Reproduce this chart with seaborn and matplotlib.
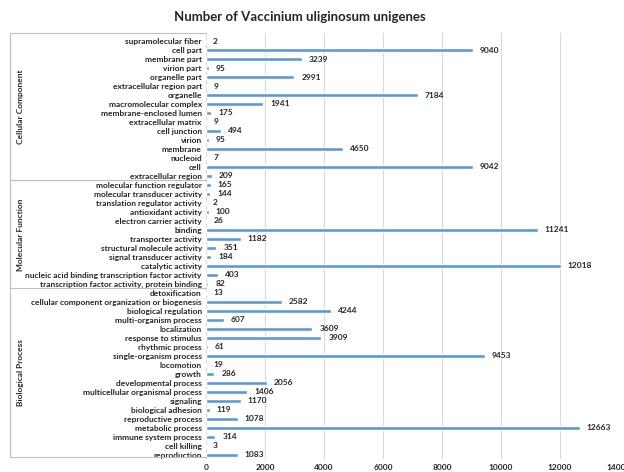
import matplotlib
matplotlib.use('Agg')
import matplotlib.pyplot as plt
import matplotlib.transforms as mtransforms
import pandas as pd
import seaborn as sns

# GO terms, top to bottom as in the chart
cc_terms = ['supramolecular fiber', 'cell part', 'membrane part', 'virion part',
            'organelle part', 'extracellular region part', 'organelle',
            'macromolecular complex', 'membrane-enclosed lumen', 'extracellular matrix',
            'cell junction', 'virion', 'membrane', 'nucleoid', 'cell', 'extracellular region']
cc_counts = [2, 9040, 3239, 95, 2991, 9, 7184, 1941, 175, 9, 494, 95, 4650, 7, 9042, 209]

mf_terms = ['molecular function regulator', 'molecular transducer activity',
            'translation regulator activity', 'antioxidant activity',
            'electron carrier activity', 'binding', 'transporter activity',
            'structural molecule activity', 'signal transducer activity',
            'catalytic activity', 'nucleic acid binding transcription factor activity',
            'transcription factor activity, protein binding']
mf_counts = [165, 144, 2, 100, 26, 11241, 1182, 351, 184, 12018, 403, 82]

bp_terms = ['detoxification', 'cellular component organization or biogenesis',
            'biological regulation', 'multi-organism process', 'localization',
            'response to stimulus', 'rhythmic process', 'single-organism process',
            'locomotion', 'growth', 'developmental process',
            'multicellular organismal process', 'signaling', 'biological adhesion',
            'reproductive process', 'metabolic process', 'immune system process',
            'cell killing', 'reproduction']
bp_counts = [13, 2582, 4244, 607, 3609, 3909, 61, 9453, 19, 286, 2056, 1406, 1170,
             119, 1078, 12663, 314, 3, 1083]

groups = ['Cellular Component', 'Molecular Function', 'Biological Process']
x_ticks = [0, 2000, 4000, 6000, 8000, 10000, 12000, 14000]

df = pd.DataFrame({
    'term': cc_terms + mf_terms + bp_terms,
    'count': cc_counts + mf_counts + bp_counts,
    'group': [groups[0]] * len(cc_terms) + [groups[1]] * len(mf_terms) + [groups[2]] * len(bp_terms),
})

sns.set_style('white')
plt.rcParams['font.family'] = ['Lato', 'DejaVu Sans']

fig = plt.figure(figsize=(6.24, 4.72), dpi=100)
ax = fig.add_axes([206 / 624, 1 - 459 / 472, 413 / 624, 426 / 472])

sns.barplot(data=df, x='count', y='term', orient='h', color='#5B9BD5',
            width=0.36, saturation=1, ax=ax)

n = len(df)
ax.set_xlim(0, 14000)
ax.set_ylim(n - 1 + 0.45, -0.89)
ax.set_xticks(x_ticks)
ax.set_xticklabels([str(t) for t in x_ticks], fontsize=6, fontweight='bold', color='#262626')
ax.tick_params(axis='y', labelsize=6, length=0, pad=3)
ax.tick_params(axis='x', length=0, pad=3.5)
for lbl in ax.get_yticklabels():
    lbl.set_fontweight('bold')
ax.set_xlabel('')
ax.set_ylabel('')
for s in ax.spines.values():
    s.set_visible(False)
ax.grid(axis='x', color='#D9D9D9', linewidth=0.8)
ax.set_axisbelow(True)

ax.bar_label(ax.containers[0], padding=5, fontsize=6, fontweight='bold', color='#262626')

# group brackets on the left
trans = mtransforms.blended_transform_factory(ax.transAxes, ax.transData)
left = -0.475
bounds = [-0.89, len(cc_terms) - 0.5, len(cc_terms) + len(mf_terms) - 0.5, n - 1 + 0.2]
for b in bounds:
    ax.plot([left, 0], [b, b], transform=trans, color='#BFBFBF', lw=0.8, clip_on=False)
ax.plot([left, left], [bounds[0], bounds[-1]], transform=trans, color='#BFBFBF', lw=0.8, clip_on=False)
for g, lo, hi in zip(groups, bounds[:-1], bounds[1:]):
    ax.text(-0.45, (lo + hi) / 2, g, transform=trans, rotation=90, ha='center', va='center',
            fontsize=6, fontweight='bold')

fig.text(0.48, 0.965, 'Number of Vaccinium uliginosum unigenes', ha='center', va='center',
         fontsize=9.5, fontweight='bold')

fig.savefig('out.png', dpi=100)
